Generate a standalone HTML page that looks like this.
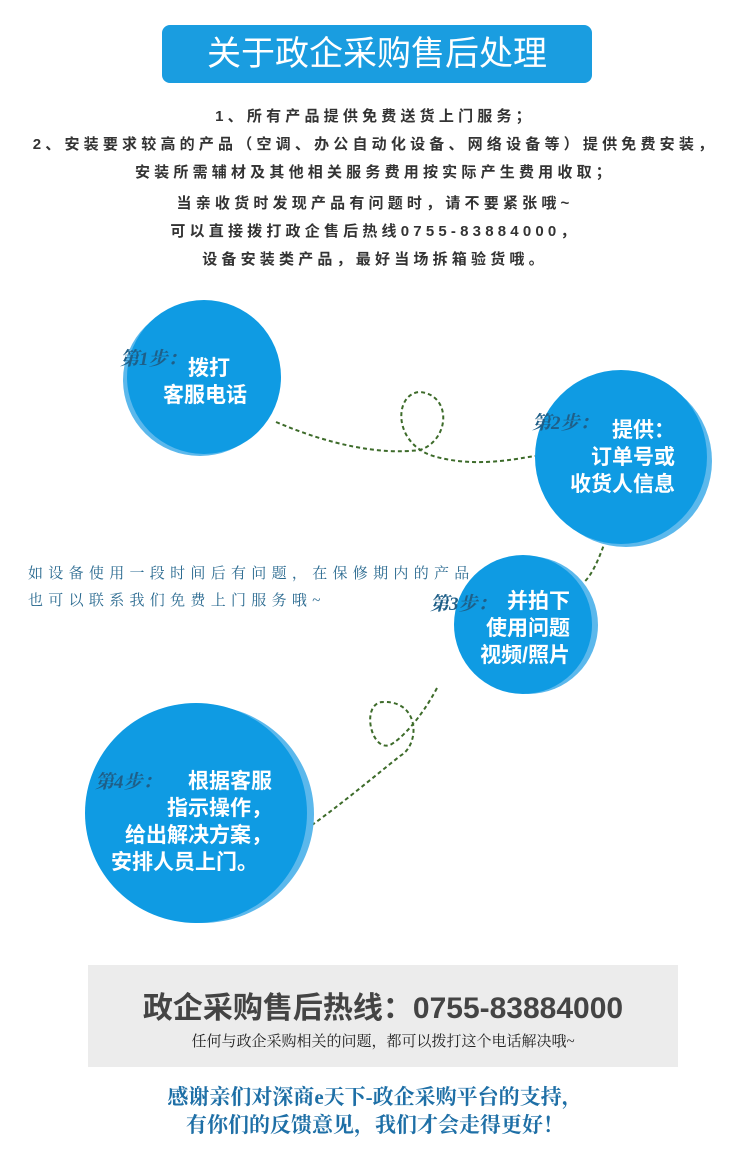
<!DOCTYPE html>
<html><head><meta charset="utf-8"><style>
body{margin:0;width:750px;height:1165px;background:#fff;position:relative;overflow:hidden;font-family:"Liberation Sans","Noto Sans CJK SC",sans-serif}
.a{position:absolute}
.t{white-space:nowrap}
.c{position:absolute;border-radius:50%;background:#0f9be3}
.s{position:absolute;border-radius:50%;background:#5bb8ec}
.w{color:#fff;font-weight:bold;font-size:21px;line-height:27px}
.st{color:#1f5f88;font-style:italic;font-weight:bold;font-size:19px;font-family:"Liberation Serif","Noto Serif CJK SC",serif}
</style></head><body>
<div class="a" style="left:162px;top:25px;width:430px;height:58px;background:#1a9de0;border-radius:8px"></div>
<div class="a t" style="left:162px;top:33px;width:430px;text-align:center;color:#fff;font-size:34px;line-height:42px">关于政企采购售后处理</div>
<div class="a" style="left:0;top:103px;width:750px;text-align:center;color:#333;font-size:15px;font-weight:bold;letter-spacing:4.2px;line-height:28px">
<div>1、所有产品提供免费送货上门服务；</div>
<div>2、安装要求较高的产品（空调、办公自动化设备、网络设备等）提供免费安装，</div>
<div>安装所需辅材及其他相关服务费用按实际产生费用收取；</div>
<div style="margin-top:3px">当亲收货时发现产品有问题时，请不要紧张哦~</div>
<div>可以直接拨打政企售后热线0755-83884000，</div>
<div>设备安装类产品，最好当场拆箱验货哦。</div>
</div>
<svg class="a" style="left:0;top:0" width="750" height="1165">
<g fill="none" stroke="#3d6b2a" stroke-width="2" stroke-dasharray="4,3">
<path d="M276 422 C330 445 380 455 420 450 C450 440 452 395 420 392 C395 393 392 440 430 455 C470 468 510 460 535 456"/>
<path d="M612 520 C600 560 590 580 580 585"/>
<path d="M437 688 C420 720 400 740 390 745 C370 752 360 700 385 702 C420 702 420 745 400 756 C370 780 340 805 312 825"/>
</g></svg>
<div class="s" style="left:123px;top:304px;width:154px;height:152px"></div>
<div class="c" style="left:127px;top:300px;width:154px;height:154px"></div>
<div class="s" style="left:540px;top:375px;width:172px;height:172px"></div>
<div class="c" style="left:535px;top:370px;width:172px;height:174px"></div>
<div class="s" style="left:458px;top:556px;width:140px;height:138px"></div>
<div class="c" style="left:454px;top:555px;width:138px;height:139px"></div>
<div class="s" style="left:90px;top:705px;width:224px;height:218px"></div>
<div class="c" style="left:85px;top:703px;width:222px;height:220px"></div>
<div class="a t st" style="left:120px;top:344px">第1步：</div>
<div class="a t w" style="left:155px;top:355px;width:100px;text-align:center"><span style="padding-left:8px">拨打</span><br>客服电话</div>
<div class="a t st" style="left:532px;top:408px">第2步：</div>
<div class="a t w" style="left:565px;top:417px;width:110px;text-align:right">提供：<br>订单号或<br>收货人信息</div>
<div class="a t st" style="left:430px;top:589px">第3步：</div>
<div class="a t w" style="left:462px;top:588px;width:108px;text-align:right">并拍下<br>使用问题<br>视频/照片</div>
<div class="a t st" style="left:95px;top:767px">第4步：</div>
<div class="a t w" style="left:100px;top:768px;width:172px;text-align:right">根据客服<br>指示操作，<br>给出解决方案，<br><span style="margin-right:14px">安排人员上门。</span></div>
<div class="a t" style="left:28px;top:561px;color:#2a6a90;font-size:15px;letter-spacing:5.3px;line-height:27px;font-family:'Liberation Serif','Noto Serif CJK SC',serif">如设备使用一段时间后有问题，在保修期内的产品<br>也可以联系我们免费上门服务哦~</div>
<div class="a" style="left:88px;top:965px;width:590px;height:102px;background:#ececec"></div>
<div class="a t" style="left:88px;top:983px;width:590px;text-align:center;font-size:30px;font-weight:bold;color:#444">政企采购售后热线：0755-83884000</div>
<div class="a t" style="left:88px;top:1030px;width:590px;text-align:center;font-size:15px;color:#222;font-family:'Liberation Serif','Noto Serif CJK SC',serif">任何与政企采购相关的问题，都可以拨打这个电话解决哦~</div>
<div class="a" style="left:0;top:1083px;width:750px;text-align:center;font-size:21px;font-weight:bold;color:#1e6fa6;line-height:28px;font-family:'Liberation Serif','Noto Serif CJK SC',serif">感谢亲们对深商e天下-政企采购平台的支持，<br>有你们的反馈意见，我们才会走得更好！</div>
</body></html>
